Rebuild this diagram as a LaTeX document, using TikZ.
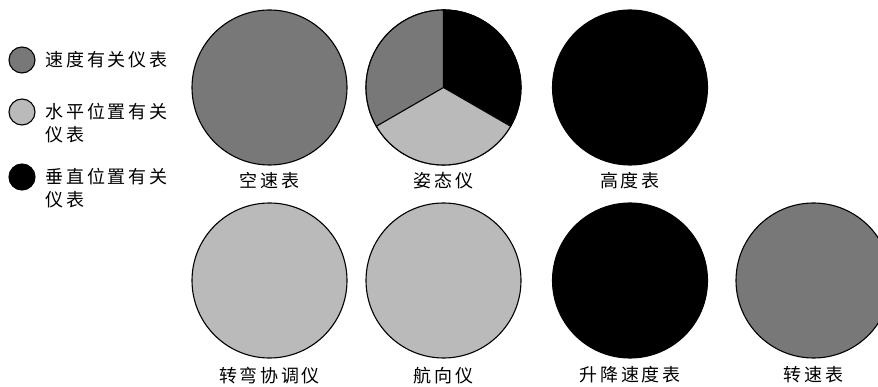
\documentclass[tikz,border=0pt]{standalone}
\usepackage{fontspec}
\newfontfamily\cjk[LetterSpace=15]{Noto Sans CJK SC}
\usetikzlibrary{positioning}

\definecolor{speedgray}{gray}{0.47}
\definecolor{levelgray}{gray}{0.73}

\begin{document}
\begin{tikzpicture}[
    x=1pt, y=-1pt,
    gauge/.style={circle, draw=black, line width=1.1pt, minimum size=155pt, inner sep=0pt},
    swatch/.style={circle, draw=black, line width=1.1pt, minimum size=26pt, inner sep=0pt},
    caption/.style={font=\cjk\fontsize{18}{20}\selectfont, inner sep=0pt},
    keytext/.style={font=\cjk\fontsize{18}{23}\selectfont, align=left, inner sep=0pt}
]
    \useasboundingbox (0,0) rectangle (878,387);

    % Legend
    \node[swatch, fill=speedgray] (key1) at (22,60) {};
    \node[swatch, fill=levelgray] (key2) at (22,112) {};
    \node[swatch, fill=black] (key3) at (22,177) {};
    \node[keytext, anchor=west] (key1text) at ([xshift=10pt]key1.east) {速度有关仪表};
    \node[keytext, anchor=north west] (key2text) at ([xshift=10pt, yshift=9pt]key2.east) {水平位置有关\\仪表};
    \node[keytext, anchor=north west] (key3text) at ([xshift=10pt, yshift=9pt]key3.east) {垂直位置有关\\仪表};

    % Top row
    \node[gauge, fill=speedgray] (airspeed) at (269.5,87.5) {};
    \node[gauge] (attitude) at (443.5,87.5) {};
    \node[gauge, fill=black] (altimeter) at (630,87.5) {};

    % Attitude sectors
    \fill[black] (attitude.center) -- (attitude.90) arc[start angle=90, end angle=-30, radius=77.5pt] -- cycle;
    \fill[levelgray] (attitude.center) -- (attitude.-30) arc[start angle=-30, end angle=-150, radius=77.5pt] -- cycle;
    \fill[speedgray] (attitude.center) -- (attitude.210) arc[start angle=210, end angle=90, radius=77.5pt] -- cycle;
    \draw[line width=1.1pt] (attitude.90) -- (attitude.center) -- (attitude.-30);
    \draw[line width=1.1pt] (attitude.center) -- (attitude.210);
    \node[gauge] at (attitude.center) {};

    % Bottom row
    \node[gauge, fill=levelgray] (turncoord) at (269.5,280.5) {};
    \node[gauge, fill=levelgray] (heading) at (443.5,280.5) {};
    \node[gauge, fill=black] (vsi) at (630,280.5) {};
    \node[gauge, fill=speedgray] (tacho) at (813.5,280.5) {};

    % Labels
    \node[caption, below=7pt of airspeed] {空速表};
    \node[caption, below=7pt of attitude] {姿态仪};
    \node[caption, below=7pt of altimeter] {高度表};
    \node[caption, below=8pt of turncoord] {转弯协调仪};
    \node[caption, below=8pt of heading] {航向仪};
    \node[caption, below=8pt of vsi] {升降速度表};
    \node[caption, below=8pt of tacho] {转速表};
\end{tikzpicture}
\end{document}
